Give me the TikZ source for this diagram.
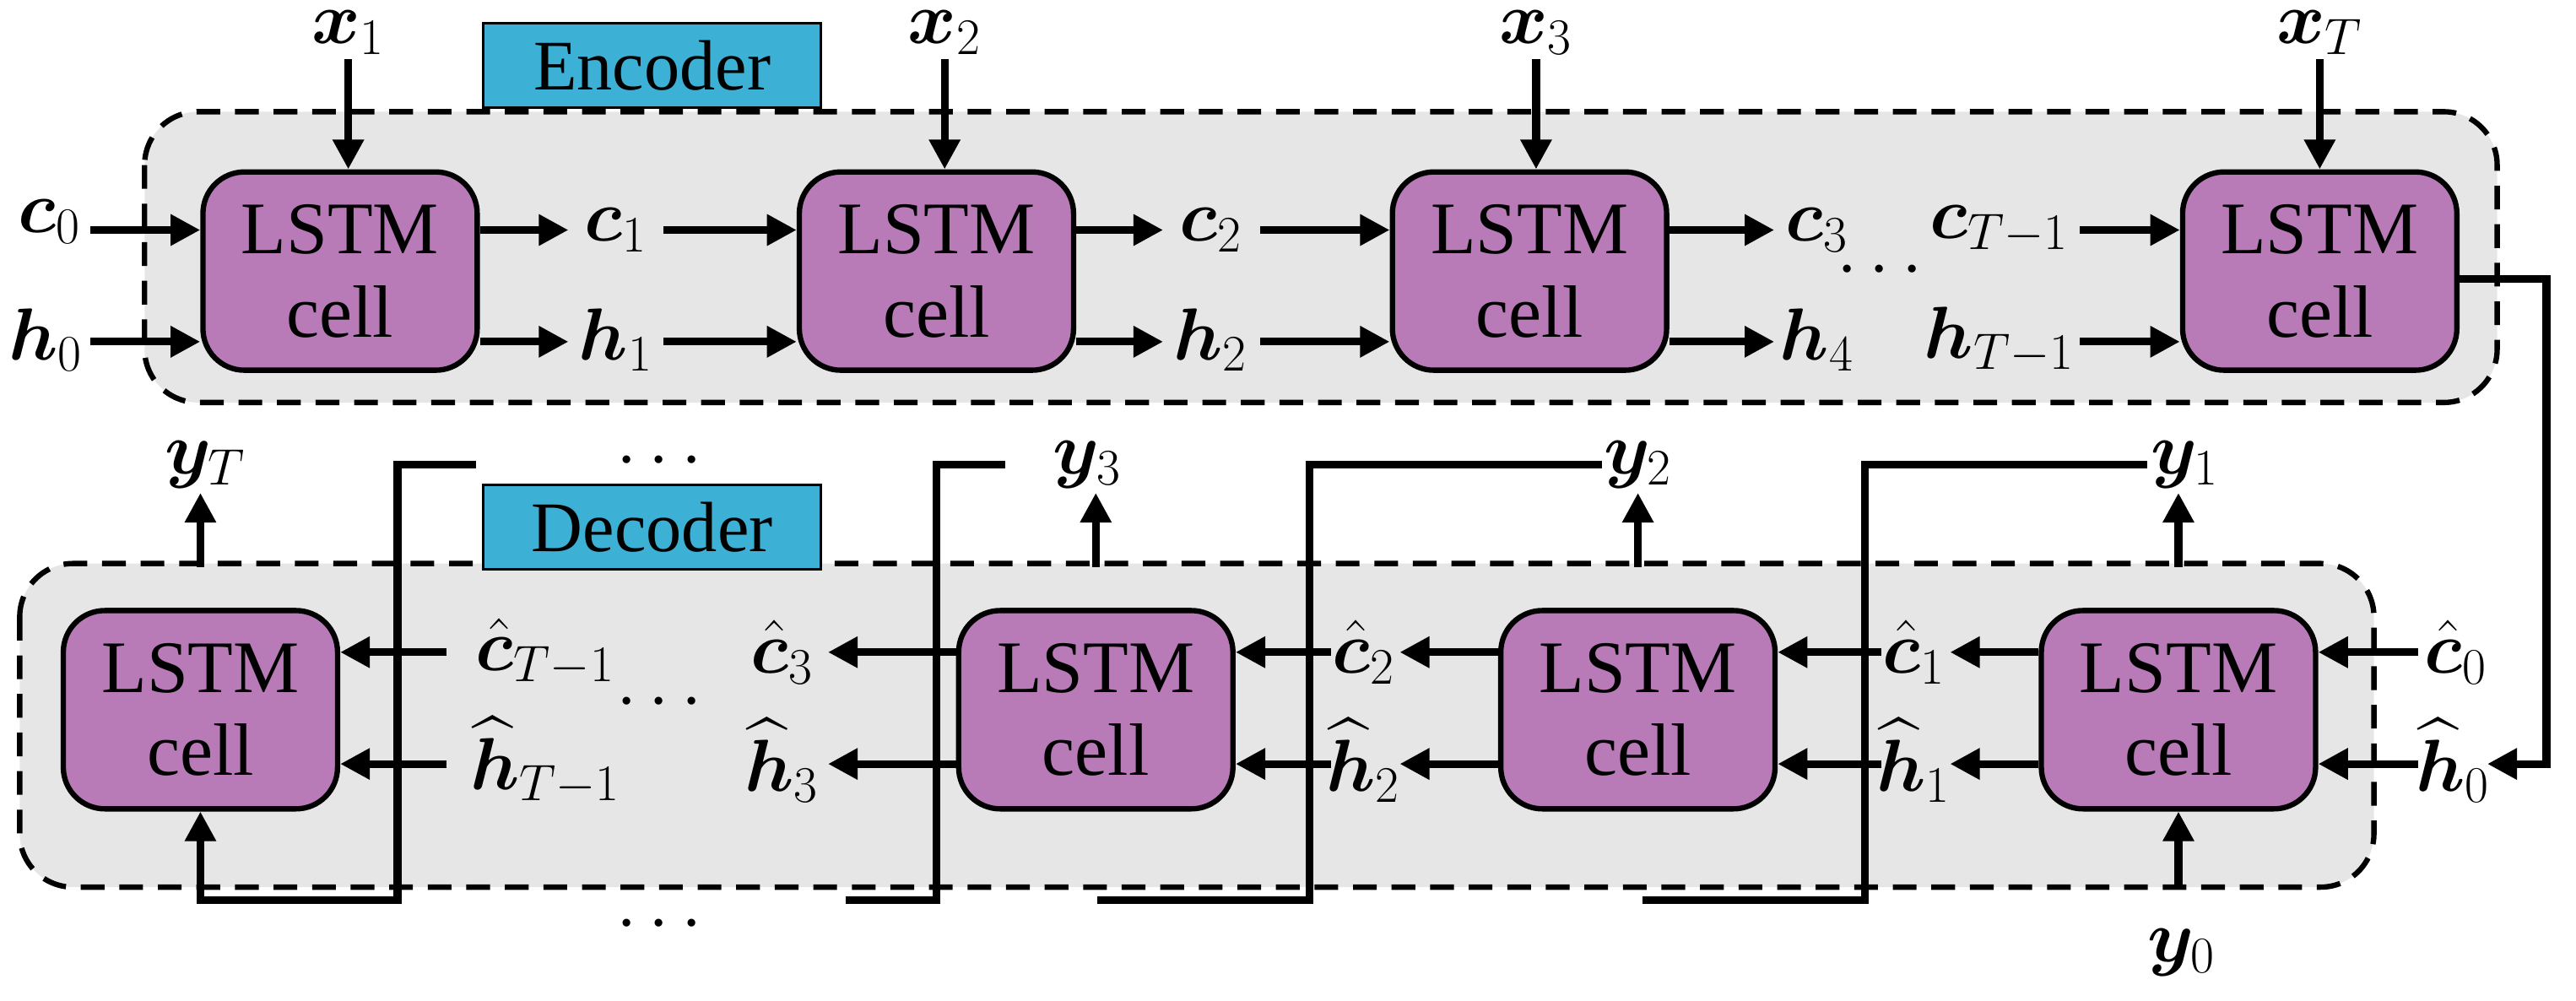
\documentclass[tikz,border=0pt]{standalone}
\usepackage{fontspec}
\usepackage{amsmath,bm}
\setmainfont{Liberation Serif}
\usetikzlibrary{arrows.meta}
\definecolor{cellc}{HTML}{B87BB8}
\definecolor{grp}{HTML}{E6E6E6}
\definecolor{lab}{HTML}{3DB0D6}
\begin{document}
\begin{tikzpicture}[x=0.019464cm,y=-0.019464cm,
  cell/.style={draw,line width=1.8pt,fill=cellc,rounded corners=14pt,minimum width=3.25cm,minimum height=2.35cm,align=center,font=\fontsize{25}{28}\selectfont},
  grp/.style={draw,dashed,dash pattern=on 8pt off 5pt,line width=1.8pt,fill=grp,rounded corners=18pt},
  tag/.style={draw,line width=0.8pt,fill=lab,minimum width=4cm,minimum height=1cm,font=\fontsize{24}{28}\selectfont},
  lb/.style={font=\fontsize{24}{28}\selectfont,inner sep=1pt},
  ar/.style={line width=2.6pt,-{Triangle[length=10pt,width=10pt]}},
  ln/.style={line width=2.6pt}]
\useasboundingbox (0,0) rectangle (1568,609);
% groups
\draw[grp] (88,68) rectangle (1520,245);
\draw[grp] (12,343) rectangle (1445,540);
\node[tag] (enc) at (397,40) {Encoder};
\node[tag] (dec) at (397,321) {Decoder};
% encoder cells
\node[cell] (e1) at (207,165) {LSTM\\ cell};
\node[cell] (e2) at (570,165) {LSTM\\ cell};
\node[cell] (e3) at (931,165) {LSTM\\ cell};
\node[cell] (e4) at (1412,165) {LSTM\\ cell};
% inputs x
\node[lb] (x1) at (212,20) {$\bm{x}_1$};
\node[lb] (x2) at (575,20) {$\bm{x}_2$};
\node[lb] (x3) at (935,20) {$\bm{x}_3$};
\node[lb] (xT) at (1412,20) {$\bm{x}_T$};
\foreach \a/\b in {x1/e1,x2/e2,x3/e3,xT/e4} \draw[ar] (\a.south|-0,36) -- (\a.south|-\b.north);
% encoder states
\node[lb] (c0) at (30,135) {$\bm{c}_0$};
\node[lb] (h0) at (28,207) {$\bm{h}_0$};
\node[lb] (c1) at (375,140) {$\bm{c}_1$};
\node[lb] (h1) at (375,207) {$\bm{h}_1$};
\node[lb] (c2) at (737,140) {$\bm{c}_2$};
\node[lb] (h2) at (737,207) {$\bm{h}_2$};
\node[lb] (c3) at (1106,140) {$\bm{c}_3$};
\node[lb] (h4) at (1106,207) {$\bm{h}_4$};
\node[lb] (cT) at (1217,140) {$\bm{c}_{T-1}$};
\node[lb] (hT) at (1217,207) {$\bm{h}_{T-1}$};
\node[lb] (edots) at (1148,165) {$\cdots$};
\coordinate (a1) at (55,0); \coordinate (a2) at (346,0); \coordinate (a3) at (404,0);
\coordinate (a4) at (708,0); \coordinate (a5) at (767,0); \coordinate (a6) at (1080,0);
\coordinate (a7) at (1266,0);
\draw[ar] (a1|-0,140) -- (e1.west|-0,140);
\draw[ar] (a1|-0,208) -- (e1.west|-0,208);
\draw[ar] (e1.east|-0,140) -- (a2|-0,140);
\draw[ar] (e1.east|-0,208) -- (a2|-0,208);
\draw[ar] (a3|-0,140) -- (e2.west|-0,140);
\draw[ar] (a3|-0,208) -- (e2.west|-0,208);
\draw[ar] (e2.east|-0,140) -- (a4|-0,140);
\draw[ar] (e2.east|-0,208) -- (a4|-0,208);
\draw[ar] (a5|-0,140) -- (e3.west|-0,140);
\draw[ar] (a5|-0,208) -- (e3.west|-0,208);
\draw[ar] (e3.east|-0,140) -- (a6|-0,140);
\draw[ar] (e3.east|-0,208) -- (a6|-0,208);
\draw[ar] (a7|-0,140) -- (e4.west|-0,140);
\draw[ar] (a7|-0,208) -- (e4.west|-0,208);
% decoder cells
\node[cell] (d1) at (122,432) {LSTM\\ cell};
\node[cell] (d2) at (667,432) {LSTM\\ cell};
\node[cell] (d3) at (997,432) {LSTM\\ cell};
\node[cell] (d4) at (1326,432) {LSTM\\ cell};
% decoder states
\node[lb] (hc0) at (1495,397) {$\hat{\bm{c}}_0$};
\node[lb] (hh0) at (1493,463) {$\widehat{\bm{h}}_0$};
\node[lb] (hc1) at (1165,397) {$\hat{\bm{c}}_1$};
\node[lb] (hh1) at (1165,463) {$\widehat{\bm{h}}_1$};
\node[lb] (hc2) at (830,397) {$\hat{\bm{c}}_2$};
\node[lb] (hh2) at (830,463) {$\widehat{\bm{h}}_2$};
\node[lb] (hc3) at (476,397) {$\hat{\bm{c}}_3$};
\node[lb] (hh3) at (476,463) {$\widehat{\bm{h}}_3$};
\node[lb] (hcT) at (332,397) {$\hat{\bm{c}}_{T-1}$};
\node[lb] (hhT) at (332,463) {$\widehat{\bm{h}}_{T-1}$};
\node[lb] (ddots) at (405,428) {$\cdots$};
\coordinate (b1) at (1472,0); \coordinate (b2) at (1187,0); \coordinate (b3) at (1145,0);
\coordinate (b4) at (852,0); \coordinate (b5) at (810,0); \coordinate (b6) at (504,0);
\coordinate (b7) at (272,0);
\draw[ar] (b1|-0,397) -- (d4.east|-0,397);
\draw[ar] (b1|-0,465) -- (d4.east|-0,465);
\draw[ar] (d4.west|-0,397) -- (b2|-0,397);
\draw[ar] (d4.west|-0,465) -- (b2|-0,465);
\draw[ar] (b3|-0,397) -- (d3.east|-0,397);
\draw[ar] (b3|-0,465) -- (d3.east|-0,465);
\draw[ar] (d3.west|-0,397) -- (b4|-0,397);
\draw[ar] (d3.west|-0,465) -- (b4|-0,465);
\draw[ar] (b5|-0,397) -- (d2.east|-0,397);
\draw[ar] (b5|-0,465) -- (d2.east|-0,465);
\draw[ar] (d2.west|-0,397) -- (b6|-0,397);
\draw[ar] (d2.west|-0,465) -- (b6|-0,465);
\draw[ar] (b7|-0,397) -- (d1.east|-0,397);
\draw[ar] (b7|-0,465) -- (d1.east|-0,465);
% encoder to decoder
\coordinate (k1) at (1550,170);
\draw[ar] (e4.east|-0,170) -- (k1) -- (1550,465) -- (1514,465);
% outputs
\node[lb] (y1) at (1330,283) {$\bm{y}_1$};
\node[lb] (y2) at (997,283) {$\bm{y}_2$};
\node[lb] (y3) at (662,283) {$\bm{y}_3$};
\node[lb] (yT) at (125,283) {$\bm{y}_T$};
\node[lb] (y0) at (1328,580) {$\bm{y}_0$};
\node[lb] (tdots) at (405,281) {$\cdots$};
\node[lb] (bdots) at (405,563) {$\cdots$};
\foreach \a/\c in {y1/d4,y2/d3,y3/d2,yT/d1} \draw[ar] (\c.north|-0,345) -- (\c.north|-0,300);
\draw[ar] (d4.south|-0,540) -- (d4.south);
% feedback
\draw[ln] (1307,283) -- (1135,283) -- (1135,548) -- (1000,548);
\draw[ln] (975,283) -- (797,283) -- (797,548) -- (668,548);
\draw[ln] (612,283) -- (570,283) -- (570,548) -- (515,548);
\draw[ar] (290,283) -- (242,283) -- (242,548) -- (d1.south|-0,548) -- (d1.south);
\end{tikzpicture}
\end{document}
